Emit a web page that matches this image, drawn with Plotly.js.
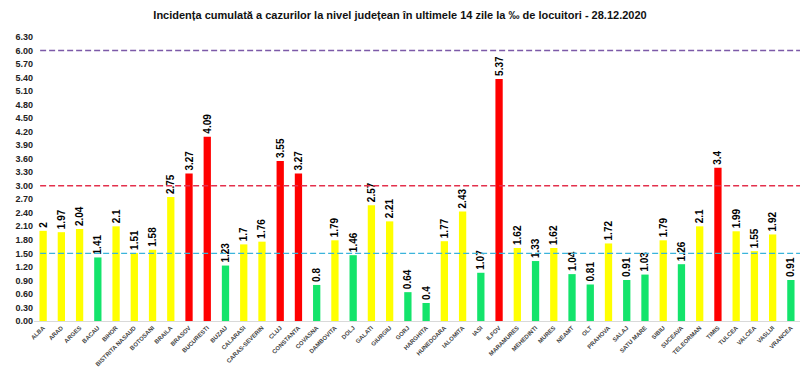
<!DOCTYPE html>
<html><head><meta charset="utf-8">
<script src="https://cdn.plot.ly/plotly-3.0.1.min.js"></script>
<style>body{margin:0;background:#fff}#c{width:800px;height:378px}</style>
</head><body><div id="c"></div>
<script>
const judete = ["ALBA","ARAD","ARGES","BACAU","BIHOR","BISTRITA NASAUD","BOTOSANI","BRAILA","BRASOV","BUCURESTI","BUZAU","CALARASI","CARAS-SEVERIN","CLUJ","CONSTANTA","COVASNA","DAMBOVITA","DOLJ","GALATI","GIURGIU","GORJ","HARGHITA","HUNEDOARA","IALOMITA","IASI","ILFOV","MARAMURES","MEHEDINTI","MURES","NEAMT","OLT","PRAHOVA","SALAJ","SATU MARE","SIBIU","SUCEAVA","TELEORMAN","TIMIS","TULCEA","VALCEA","VASLUI","VRANCEA"];
const incidenta = [2,1.97,2.04,1.41,2.1,1.51,1.58,2.75,3.27,4.09,1.23,1.7,1.76,3.55,3.27,0.8,1.79,1.46,2.57,2.21,0.64,0.4,1.77,2.43,1.07,5.37,1.62,1.33,1.62,1.04,0.81,1.72,0.91,1.03,1.79,1.26,2.1,3.4,1.99,1.55,1.92,0.91];
const praguri = [1.5, 3, 6];
const culoriPrag = ["#3ab4dc", "#e3304c", "#7c5aa8"];

const culori = incidenta.map(v => v > 3 ? "#ff0000" : (v >= 1.5 ? "#ffff00" : "#13e46b"));
const font = "Liberation Sans Narrow, Arial Narrow, Liberation Sans, Arial, sans-serif";

const data = [{
  type: "bar",
  x: judete,
  y: incidenta,
  marker: {color: culori},
  text: incidenta.map(String),
  textposition: "outside",
  textangle: -90,
  constraintext: "none",
  cliponaxis: false,
  textfont: {family: font, size: 10, color: "#000", weight: "bold"},
  hoverinfo: "x+y"
}];

const shapes = praguri.map((p, i) => ({
  type: "line", xref: "paper", yref: "y", x0: 0.008, x1: 1, y0: p, y1: p,
  line: {color: culoriPrag[i], width: 1.3, dash: "6px,3px"}
}));

const layout = {
  width: 800, height: 378,
  margin: {l: 34, r: 0, t: 37, b: 57},
  paper_bgcolor: "#fff", plot_bgcolor: "#fff",
  title: {text: "<b>Incidența cumulată a cazurilor la nivel județean în ultimele 14 zile la ‰ de locuitori - 28.12.2020</b>",
          font: {family: font, size: 11, color: "#111"}, x: 0.5, xanchor: "center", y: 0.96, yanchor: "middle"},
  bargap: 0.6,
  showlegend: false,
  xaxis: {
    type: "category", tickangle: -45, showgrid: false, showline: true, linecolor: "#d9d9d9", linewidth: 1,
    ticks: "", tickfont: {family: font, size: 6, color: "#444", weight: "bold"}, automargin: false
  },
  yaxis: {
    range: [0, 6.3], dtick: 0.3, tick0: 0, tickformat: ".2f", showgrid: false, zeroline: false,
    showline: false, ticks: "", tickfont: {family: font, size: 9, color: "#222", weight: "bold"}, automargin: false
  },
  shapes: shapes
};

Plotly.newPlot("c", data, layout, {staticPlot: true, displayModeBar: false});
</script>
</body></html>
